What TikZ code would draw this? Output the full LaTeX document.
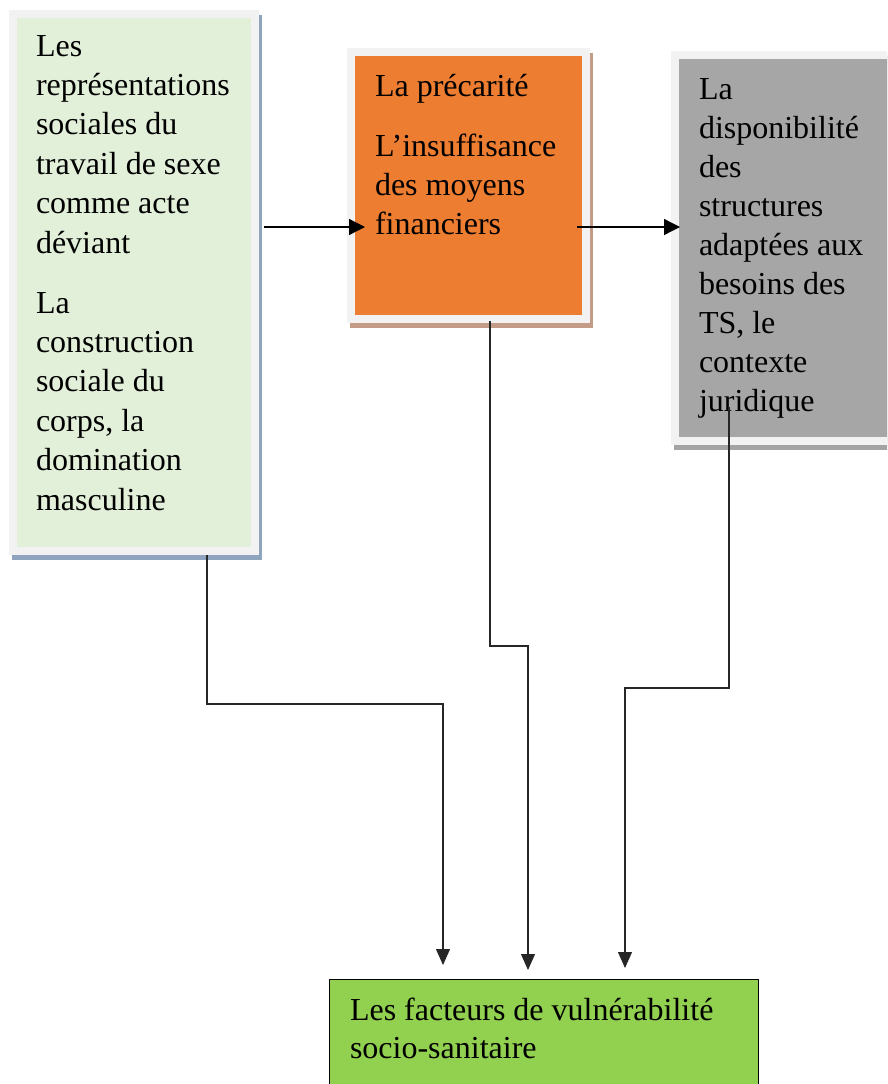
\documentclass[tikz,border=0pt]{standalone}
\usepackage{fontspec}
\setmainfont{Liberation Serif}
\usetikzlibrary{arrows.meta,calc}

\definecolor{paleframe}{HTML}{F2F2F2}
\definecolor{palegreen}{HTML}{E2EFD9}
\definecolor{blueshade}{HTML}{8FA4BF}
\definecolor{orangefill}{HTML}{ED7D31}
\definecolor{orangeshade}{HTML}{C39B86}
\definecolor{greyfill}{HTML}{A6A6A6}
\definecolor{greyshade}{HTML}{A3A3A3}
\definecolor{limegreen}{HTML}{92D050}

% gives the first line of every text block a fixed height
\newcommand\firstlinestrut{\rule{0pt}{30pt}}

\begin{document}
\begin{tikzpicture}[x=1pt,y=-1pt,
  framedbox/.style={rectangle, anchor=north west, inner sep=0pt,
    outer sep=0pt, draw=paleframe, line width=8pt},
  boxtext/.style={anchor=north west, inner sep=0pt, outer sep=0pt,
    align=left, font=\fontsize{32}{39.4}\selectfont},
  flowarrow/.style={line width=1.3pt, draw=black,
    -{Triangle[length=16pt,width=16pt]}},
  feedline/.style={line width=1.1pt, draw=black!85,
    -{Triangle[length=16pt,width=14pt]}}
]
\clip (0,0) rectangle (887,1084);
\fill[white] (0,0) rectangle (887,1084);

% shadows behind the three upper boxes
\fill[blueshade]   (12,15) rectangle (262,560);
\fill[orangeshade] (350,53) rectangle (593,328);
\fill[greyshade]   (674,56) rectangle (960,450);

% boxes
\node[framedbox, fill=palegreen, minimum width=242pt, minimum height=537pt]
  (b1) at (13,14) {};
\node[framedbox, fill=orangefill, minimum width=235pt, minimum height=267pt]
  (b2) at (351,52) {};
\node[framedbox, fill=greyfill, minimum width=270pt, minimum height=386pt]
  (b3) at (675,55) {};
\node[rectangle, anchor=north west, inner sep=0pt, outer sep=0pt,
  fill=limegreen, draw=black, line width=1.3pt,
  minimum width=429pt, minimum height=140pt]
  (b4) at (329.5,979.5) {};

% texts
\node[boxtext] (t1) at (36,26) {\firstlinestrut Les\\représentations\\sociales du\\travail de sexe\\comme acte\\déviant\\[20.6pt]La\\construction\\sociale du\\corps, la\\domination\\masculine};
\node[boxtext] (t2) at (375,66) {\firstlinestrut La précarité\\[20.6pt]L’insuffisance\\des moyens\\financiers};
\node[boxtext, font=\fontsize{32}{39.1}\selectfont] (t3) at (699,69) {\firstlinestrut La\\disponibilité\\des\\structures\\adaptées aux\\besoins des\\TS, le\\contexte\\juridique};
\node[boxtext, font=\fontsize{32}{38}\selectfont] (t4) at (350,990) {\firstlinestrut Les facteurs de vulnérabilité\\socio-sanitaire};

% connector end points
\coordinate (h1s) at ($(b1.east |- 0,227)+(9,0)$);
\coordinate (h1e) at ($(b2.west |- 0,227)+(14,0)$);
\coordinate (h2s) at ($(b2.east |- 0,227)+(-9,0)$);
\coordinate (h2e) at ($(b3.west |- 0,227)+(5,0)$);

\coordinate (v1s) at ($(b1.south west)+(194,4)$);
\coordinate (v2s) at ($(b2.south west)+(139,2)$);
\coordinate (v3s) at ($(b3.south west)+(54,-34)$);

\coordinate (v1e) at ($(b4.north west)+(113.5,-14.5)$);
\coordinate (v2e) at ($(b4.north west)+(198.5,-9.5)$);
\coordinate (v3e) at ($(b4.north west)+(295.5,-11.5)$);

% horizontal links
\draw[flowarrow] (h1s) -- (h1e);
\draw[flowarrow] (h2s) -- (h2e);

% links down to the bottom box
\draw[feedline] (v1s) |- ($(v1e |- 0,704)$) -- (v1e);
\draw[feedline] (v2s) |- ($(v2e |- 0,646)$) -- (v2e);
\draw[feedline] (v3s) |- ($(v3e |- 0,688)$) -- (v3e);
\end{tikzpicture}
\end{document}
